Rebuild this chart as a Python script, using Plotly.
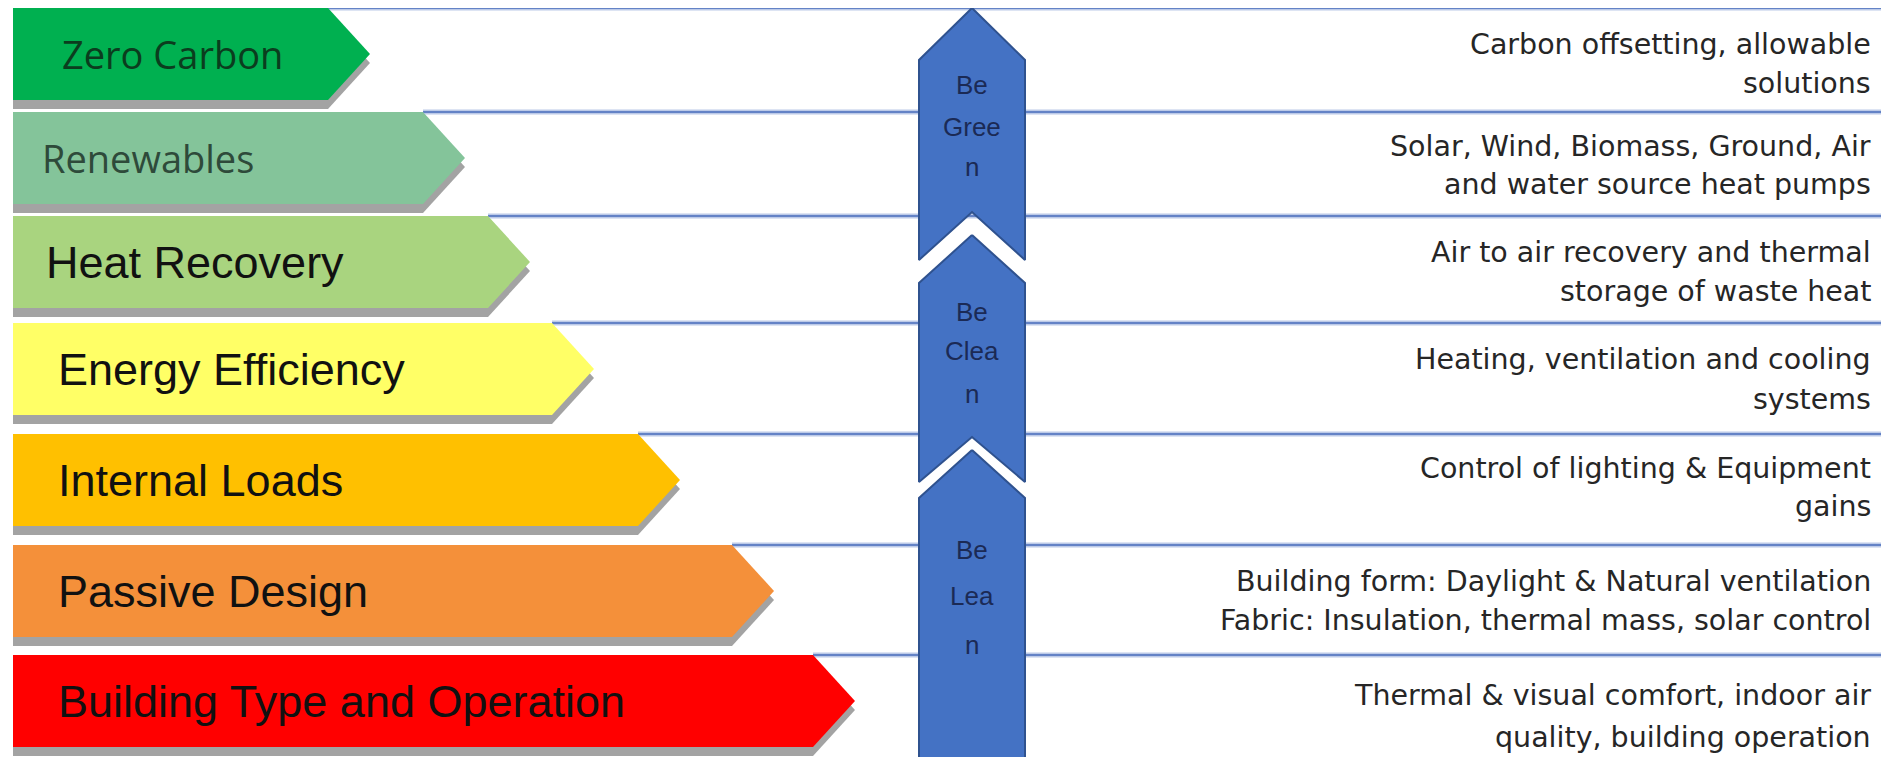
import plotly.graph_objects as go

# ---------------- data ----------------
levels = ["Zero Carbon", "Renewables", "Heat Recovery", "Energy Efficiency",
          "Internal Loads", "Passive Design", "Building Type and Operation"]
arrow_length = [328, 423, 488, 552, 638, 732, 813]
level_colors = ["#00B050", "#84C49A", "#A9D47F", "#FFFF66", "#FFC000", "#F4903A", "#FF0000"]
descriptions = [
    ["Carbon offsetting, allowable", "solutions"],
    ["Solar, Wind, Biomass, Ground, Air", "and water source heat pumps"],
    ["Air to air recovery and thermal", "storage of waste heat"],
    ["Heating, ventilation and cooling", "systems"],
    ["Control of lighting & Equipment", "gains"],
    ["Building form: Daylight & Natural ventilation", "Fabric: Insulation, thermal mass, solar control"],
    ["Thermal & visual comfort, indoor air", "quality, building operation"],
]
strategies = [["Be", "Gree", "n"], ["Be", "Clea", "n"], ["Be", "Lea", "n"]]

# ---------------- layout constants ----------------
W, H = 1889, 757
OFF = 8  # page body margin; figure shrunk so coordinates map to page pixels
row_top = [8, 112, 216, 323, 434, 545, 655]
row_h = 92
tip = 42
left = 13
shadow_dy = 9
label_x = [60, 40, 44, 56, 56, 56, 56]
label_font = ["Open Sans", "Open Sans", "Liberation Sans", "Liberation Sans",
              "Liberation Sans", "Liberation Sans", "Liberation Sans"]
label_size = [38, 38, 45, 45, 45, 45, 45]
label_color = ["#0B3D1E", "#2E4A3A", "#111111", "#111111", "#111111", "#111111", "#111111"]
desc_dy = [[36, 75], [34, 72], [36, 75], [36, 76], [34, 72], [36, 75], [40, 82]]

col_l, col_r = 919, 1025
col_c = (col_l + col_r) / 2
chev = [  # apex, shoulder, bottom corner, notch apex (None = flat)
    (8, 60, 260, 212),
    (235, 283, 482, 437),
    (450, 498, 765, None),
]
strat_text_y = [[85, 127, 167], [312, 351, 394], [550, 596, 645]]

fig = go.Figure()

# separator lines
for i in range(len(levels)):
    fig.add_trace(go.Scatter(x=[arrow_length[i], W], y=[row_top[i], row_top[i]],
                             mode="lines", line=dict(color="#BCCAE8", width=5),
                             hoverinfo="skip", showlegend=False))
    fig.add_trace(go.Scatter(x=[arrow_length[i], W], y=[row_top[i], row_top[i]],
                             mode="lines", line=dict(color="#6483C6", width=2),
                             hoverinfo="skip", showlegend=False))

# blue chevrons
for (apex, sh, bot, notch), lines, ys in zip(chev, strategies, strat_text_y):
    if notch is None:
        xs = [col_c, col_r, col_r, col_l, col_l, col_c]
        yv = [apex, sh, bot, bot, sh, apex]
    else:
        xs = [col_c, col_r, col_r, col_c, col_l, col_l, col_c]
        yv = [apex, sh, bot, notch, bot, sh, apex]
    fig.add_trace(go.Scatter(x=xs, y=yv, mode="lines", fill="toself",
                             fillcolor="#4472C4", line=dict(color="#2F528F", width=2),
                             hoverinfo="skip", showlegend=False))
    for t, yy in zip(lines, ys):
        fig.add_annotation(x=col_c, y=yy, text=t, showarrow=False,
                           font=dict(family="Liberation Sans", size=26, color="#1B2A55"),
                           xanchor="center", yanchor="middle")

# level arrows with shadows
for i, name in enumerate(levels):
    t, b = row_top[i], row_top[i] + row_h
    m = (t + b) / 2
    L = arrow_length[i]
    xs = [left, L, L + tip, L, left, left]
    ys = [t, t, m, b, b, t]
    fig.add_trace(go.Scatter(x=xs, y=[y + shadow_dy for y in ys], mode="lines",
                             fill="toself", fillcolor="#A3A3A3", line=dict(width=0),
                             hoverinfo="skip", showlegend=False))
    fig.add_trace(go.Scatter(x=xs, y=ys, mode="lines", fill="toself",
                             fillcolor=level_colors[i], line=dict(width=0),
                             hoverinfo="skip", showlegend=False))
    fig.add_annotation(x=label_x[i], y=m, text=name, showarrow=False,
                       font=dict(family=label_font[i], size=label_size[i], color=label_color[i]),
                       xanchor="left", yanchor="middle")
    for line_txt, dy in zip(descriptions[i], desc_dy[i]):
        fig.add_annotation(x=1873, y=t + dy, text=line_txt, showarrow=False,
                           font=dict(family="DejaVu Sans", size=28.5, color="#262626"),
                           xanchor="right", yanchor="middle")

fig.update_layout(
    width=W - OFF, height=H - OFF,
    margin=dict(l=0, r=0, t=0, b=0),
    paper_bgcolor="white", plot_bgcolor="white",
    xaxis=dict(range=[OFF, W], visible=False, fixedrange=True),
    yaxis=dict(range=[H, OFF], visible=False, fixedrange=True),
    showlegend=False,
)

fig.write_html("out.html")
